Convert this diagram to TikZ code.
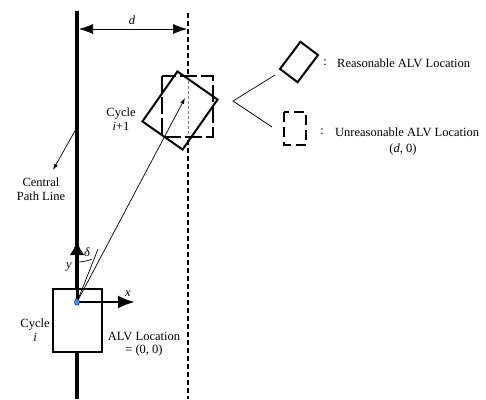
\documentclass[tikz,border=0pt]{standalone}
\usepackage{fontspec}
\setmainfont{Liberation Serif}
\usetikzlibrary{arrows.meta,shapes.geometric}
\begin{document}
\begin{tikzpicture}[x=1pt,y=-1pt,
    bigtip/.style={-{Latex[length=14pt,width=15pt]}},
    thintip/.style={-{Latex[length=6pt,width=4pt]}},
    lbl/.style={font=\fontsize{12.5}{13.5}\selectfont,align=center,inner sep=0pt},
    offline/.style={line width=2pt,dash pattern=on 5pt off 3pt},
    carbox/.style={draw,line width=2pt,inner sep=0pt},
    fine/.style={line width=0.7pt}]
    \useasboundingbox (0,0) rectangle (486,399);
    \coordinate (ptop) at (77,11);
    \coordinate (pbot) at (77,399);
    \coordinate (otop) at (188,13);
    \coordinate (obot) at (188,399);
    \coordinate (o) at (77,302);
    % path line and offset line
    \draw [line width=4pt] (ptop) -- (pbot);
    \draw [offline] (otop) -- (188,76);
    \draw [offline] (188,140) -- (obot);
    \draw [gray,thin,dash pattern=on 3pt off 2pt] (188,76) -- (188,140);
    \draw [{Latex[length=14pt,width=10pt]}-{Latex[length=14pt,width=10pt]},semithick] (79,29) -- (187,29);
    \node [lbl] (d) at (132,20) {\textit{d}};
    % cycle i
    \node [carbox,fill=white,minimum width=49pt,minimum height=63pt] (cyc) at (77.5,320.5) {};
    \coordinate (yend) at (77,241);
    \draw [line width=3pt,bigtip] (o) -- (yend);
    \node [lbl] (y) at (69,267) {\textit{y}};
    \coordinate (xend) at (135,302);
    \draw [line width=2.5pt,-{Latex[length=17pt,width=13pt]}] (o) -- (xend);
    \node [lbl] (x) at (128,294) {\textit{x}};
    \coordinate (head) at (98,249);
    \coordinate (next) at (185,98);
    \draw [fine] (o) -- (head);
    \draw [fine,thintip] (o) -- (next);
    \draw [fine] (77,262) arc[start angle=90,end angle=68.4,radius=40];
    \node [lbl] (delta) at (87,252) {\textit{δ}};
    \node [draw=blue!60!black,fill=blue!55!cyan!80,ellipse,inner sep=0pt,minimum width=5pt,minimum height=6.5pt,thin] (dot) at (o) {};
    % cycle i+1
    \node [carbox,minimum width=49pt,minimum height=61pt,rotate=-35] (nxt) at (180,110.5) {};
    \draw [line width=2pt,dash pattern=on 17pt off 4pt] (162,76) rectangle (213,137);
    % labels
    \node [lbl] (cn) at (121,119) {Cycle\\\textit{i}+1};
    \node [lbl] (ci) at (35,330) {Cycle\\\textit{i}};
    \node [lbl] (alv) at (144,344) {ALV Location\\= (0, 0)};
    \node [lbl] (cpl) at (41,189) {Central\\Path Line};
    \coordinate (pp) at (76,129);
    \coordinate (cplt) at (53,170);
    \draw [fine,thintip] (pp) -- (cplt);
    % legend
    \node [carbox,minimum width=22pt,minimum height=34pt,rotate=-37] (good) at (299,62) {};
    \draw [line width=2pt,dash pattern=on 10pt off 5pt] (284,112) rectangle (306,145);
    \node [lbl] (c1) at (325,63) {:};
    \node [lbl,anchor=west] (good lbl) at (337,63) {Reasonable ALV Location};
    \node [lbl] (c2) at (322,132) {:};
    \node [lbl,anchor=west] (bad lbl) at (335,132) {Unreasonable ALV Location};
    \node [lbl] (bad pos) at (403,149) {(\textit{d}, 0)};
    \coordinate (tip) at (233,101);
    \draw [fine] (275,75) -- (tip) -- (272,127);
\end{tikzpicture}
\end{document}
